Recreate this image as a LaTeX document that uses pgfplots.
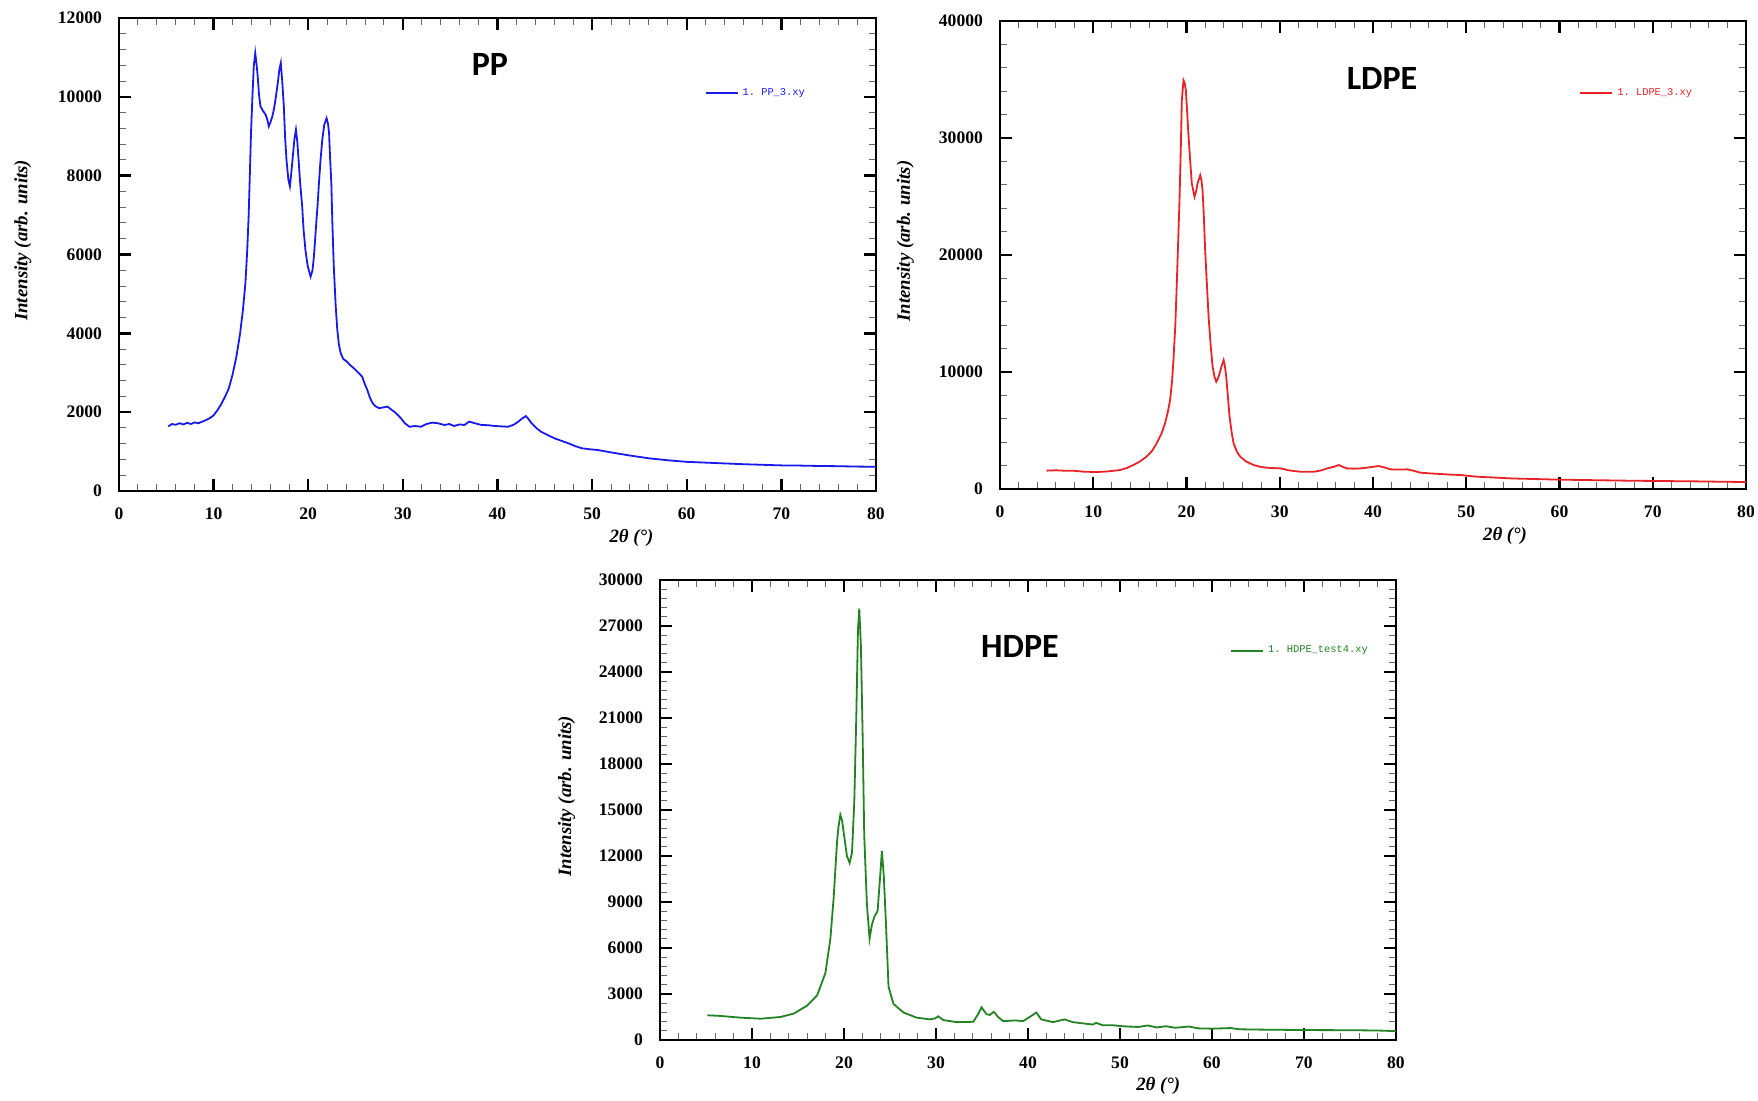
\documentclass[border=0pt]{standalone}
\usepackage{pgfplots}
\pgfplotsset{compat=1.18}
\usepackage{fontspec}
\setmainfont{Liberation Serif}
\setmonofont{Liberation Mono}
\newfontfamily\titlefont{Carlito}
\definecolor{ppblue}{RGB}{25,25,235}
\definecolor{ldred}{RGB}{232,35,40}
\definecolor{hdgreen}{RGB}{35,130,35}

\pgfplotstableread{
x y
5.2 1640
5.6 1700
6.0 1680
6.4 1720
6.8 1690
7.2 1730
7.6 1700
8.0 1740
8.4 1720
8.8 1760
9.2 1800
9.6 1850
10.0 1920
10.4 2050
10.8 2200
11.2 2390
11.6 2600
12.0 2950
12.4 3400
12.8 4000
13.1 4600
13.36 5270
13.55 6100
13.7 6960
13.85 8200
13.95 9080
14.1 10000
14.24 10770
14.4 11110
14.55 10800
14.66 10520
14.8 10050
14.95 9760
15.2 9650
15.5 9545
15.7 9400
15.83 9250
16.0 9350
16.2 9500
16.36 9670
16.55 9950
16.78 10350
16.95 10700
17.1 10860
17.25 10400
17.42 9760
17.55 9000
17.7 8400
17.9 7900
18.06 7730
18.2 8050
18.37 8490
18.55 8950
18.7 9165
18.85 8850
18.98 8400
19.15 7800
19.36 7220
19.5 6650
19.7 6120
19.95 5700
20.25 5440
20.45 5600
20.6 5950
20.85 6800
21.0 7300
21.13 7810
21.3 8400
21.48 8910
21.7 9300
21.94 9460
22.1 9300
22.2 9080
22.3 8500
22.44 7810
22.55 6800
22.7 5700
22.9 4700
23.07 4090
23.25 3700
23.43 3500
23.7 3350
24.1 3280
24.4 3200
24.84 3110
25.3 3000
25.7 2900
26.0 2700
26.25 2560
26.5 2380
26.8 2230
27.1 2150
27.5 2100
27.9 2120
28.4 2140
28.7 2080
29.1 2010
29.5 1920
29.8 1845
30.2 1720
30.7 1630
31.3 1650
31.9 1630
32.5 1700
33.1 1735
33.7 1720
34.4 1675
34.9 1700
35.4 1650
36.0 1690
36.5 1675
37.0 1760
37.6 1720
38.3 1675
39.0 1670
39.7 1650
40.4 1640
41.1 1630
41.7 1680
42.2 1760
42.6 1840
43.0 1900
43.3 1820
43.6 1720
44.1 1600
44.6 1505
45.3 1420
46.0 1340
46.8 1270
47.5 1210
48.2 1140
48.9 1085
49.7 1060
50.6 1040
52 980
54 900
56 830
58 780
60 740
62 720
64 700
66 680
68 665
70 650
72 645
74 635
76 630
78 620
80 615
}\ppdata

\pgfplotstableread{
x y
5.0 1570
6 1600
7 1560
7.85 1566
9 1480
10.36 1450
11.5 1500
12.87 1620
13.6 1800
14.3 2050
15.0 2350
15.7 2760
16.3 3250
16.8 3900
17.3 4700
17.7 5610
18.0 6600
18.24 7600
18.45 9200
18.6 11020
18.8 14000
18.96 17570
19.1 21000
19.25 24680
19.4 29500
19.5 33220
19.68 34930
19.8 34700
19.93 34080
20.05 32500
20.2 30380
20.4 28000
20.57 26110
20.86 24970
21.05 25500
21.18 26110
21.47 26820
21.6 26400
21.72 25540
21.85 23500
22.0 20410
22.2 17300
22.37 14720
22.6 12200
22.8 10450
23.0 9600
23.19 9170
23.35 9400
23.55 9880
23.8 10600
23.98 11020
24.12 10500
24.26 9590
24.45 7800
24.62 6180
24.85 4800
25.05 3900
25.4 3200
25.77 2760
26.4 2350
27.2 2050
27.9 1900
28.6 1820
29.3 1790
30.07 1765
30.5 1700
30.8 1620
31.5 1540
32.2 1480
33.0 1470
33.66 1480
34.4 1580
35.1 1765
35.8 1900
36.34 2050
36.8 1880
37.2 1765
38.0 1740
38.7 1765
39.6 1850
40.6 1965
41.2 1850
41.9 1680
42.8 1660
43.7 1680
44.4 1550
45.1 1395
46.2 1330
47.3 1280
48.3 1230
49.4 1195
50.3 1120
51.2 1050
53 980
55 900
57 860
60 800
62.5 770
65 740
67.5 710
70 690
72.5 670
75 650
77.5 620
80 600
}\ldpedata

\pgfplotstableread{
x y
5.16 1614
6.6 1570
8.77 1457
10.94 1390
13.1 1502
14.55 1726
15.99 2242
17.08 2915
17.98 4372
18.52 6614
18.88 9305
19.24 12890
19.4 13900
19.6 14686
19.8 14300
19.96 13565
20.32 11996
20.61 11547
20.87 12220
21.12 15583
21.34 21188
21.52 26794
21.66 28139
21.84 25673
22.02 20067
22.2 13341
22.49 8857
22.78 6614
23.03 7511
23.32 8072
23.65 8408
23.9 10426
24.12 12332
24.33 10650
24.55 7735
24.84 3475
25.38 2354
26.46 1794
27.9 1457
29.35 1345
29.9 1412
30.25 1547
30.79 1300
32.24 1166
34.04 1188
34.58 1682
34.95 2130
35.49 1682
35.85 1637
36.28 1839
36.75 1502
37.29 1233
38.56 1278
39.46 1233
40.36 1570
40.9 1794
41.44 1345
42.71 1166
43.97 1345
44.87 1166
47.04 1009
47.4 1121
48.12 964
49.21 964
50.29 897
52 850
53 950
54 820
55 900
56 800
57.5 880
58.5 760
60 740
62 780
63 700
65 680
70 650
75 640
78 620
80 580
}\hdpedata

\pgfplotsset{
  xrd/.style={
    scale only axis,
    anchor=south west,
    xmin=0, xmax=80, xtick={0,10,...,80},
    minor x tick num=4, minor y tick num=4,
    tick align=inside,
    axis line style={line width=1.3pt},
    major tick length=6pt, minor tick length=3.5pt,
    major tick style={line width=1.2pt, black},
    minor tick style={line width=0.5pt, black!60},
    tick label style={font=\fontsize{8.8}{10}\selectfont\bfseries},
    /pgf/number format/assume math mode=true,
    /pgf/number format/set thousands separator={},
    scaled y ticks=false,
    xticklabel style={yshift=-5pt},
    yticklabel style={xshift=-5pt},
    xlabel={2θ (°)},
    ylabel={Intensity (arb. units)},
    every axis x label/.style={at={(axis description cs:0.677,-0.1)}, anchor=center},
    every axis y label/.style={at={(axis description cs:-0.127,0.53)}, rotate=90, anchor=center},
    label style={font=\fontsize{9.4}{11}\selectfont\bfseries\itshape},
    legend style={draw=none, fill=none, inner sep=0pt, anchor=west,
      font=\ttfamily\fontsize{5.2}{6}\selectfont},
    legend image code/.code={\draw[#1, line width=1.1pt] (0pt,0pt) -- (12pt,0pt); \path (0pt,0pt) -- (16pt,0pt);},
  }
}

\begin{document}
\begin{tikzpicture}
\useasboundingbox (0,0) rectangle (879pt,-550pt);

\begin{axis}[xrd, at={(59.5pt,-245.5pt)}, width=378.5pt, height=236.5pt,
  ymin=0, ymax=12000, ytick={0,2000,...,12000},
  legend style={at={(axis description cs:0.773,0.841)}, text=ppblue}]
\addplot[ppblue, line width=0.9pt] table[x=x, y=y] {\ppdata};
\addlegendentry{1. PP\_3.xy}
\end{axis}

\begin{axis}[xrd, at={(500pt,-244.5pt)}, width=373pt, height=234pt,
  ymin=0, ymax=40000, ytick={0,10000,...,40000},
  legend style={at={(axis description cs:0.776,0.846)}, text=ldred}]
\addplot[ldred, line width=0.9pt] table[x=x, y=y] {\ldpedata};
\addlegendentry{1. LDPE\_3.xy}
\end{axis}

\begin{axis}[xrd, at={(330pt,-520pt)}, width=368pt, height=230pt,
  ymin=0, ymax=30000, ytick={0,3000,...,30000},
  legend style={at={(axis description cs:0.774,0.846)}, text=hdgreen}]
\addplot[hdgreen, line width=0.9pt] table[x=x, y=y] {\hdpedata};
\addlegendentry{1. HDPE\_test4.xy}
\end{axis}

\node[font=\titlefont\bfseries\fontsize{17}{20}\selectfont] at (245pt,-32pt) {PP};
\node[font=\titlefont\bfseries\fontsize{17}{20}\selectfont] at (691pt,-39pt) {LDPE};
\node[font=\titlefont\bfseries\fontsize{17}{20}\selectfont] at (510pt,-323pt) {HDPE};
\end{tikzpicture}
\end{document}
